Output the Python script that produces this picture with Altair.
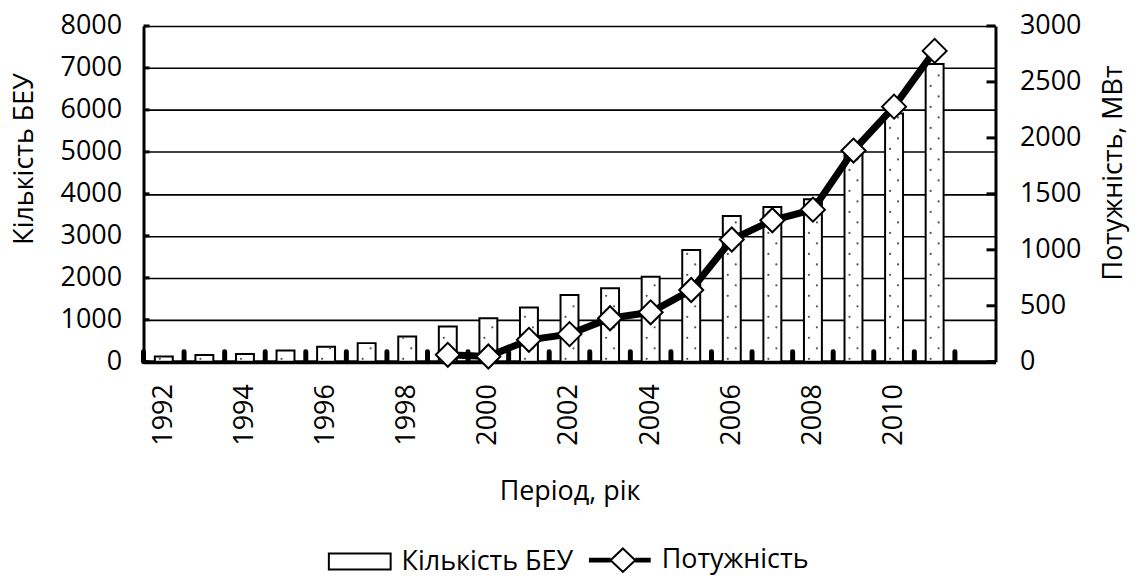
import altair as alt
import pandas as pd

# ---------------- data ----------------
years = [str(y) for y in range(1992, 2013)]          # 21 slots, 2012 empty
bar_years = [str(y) for y in range(1992, 2012)]
counts = [126, 160, 183, 268, 356, 444, 601, 838, 1038, 1290,
          1591, 1750, 2026, 2660, 3475, 3689, 3872, 4964, 5914, 7095]
power_years = [str(y) for y in range(1999, 2012)]
power = [62, 47, 196, 247, 389, 442, 641, 1092, 1264, 1359, 1887, 2279, 2777]
left_ticks = list(range(0, 8001, 1000))
right_ticks = list(range(0, 3001, 500))
series = ["Кількість БЕУ", "Потужність"]

FONT = "Open Sans"
FS = 27
W, H = 855, 337

bars_df = pd.DataFrame({"year": bar_years, "count": counts})
power_df = pd.DataFrame({"year": power_years, "power": power})
slots_df = pd.DataFrame({"year": years})
lt_df = pd.DataFrame({"v": left_ticks})
rt_df = pd.DataFrame({"v": right_ticks})
leg_df = pd.DataFrame({"s": series})

xscale = alt.Scale(domain=years, paddingInner=0, paddingOuter=0)
yl = alt.Scale(domain=[0, 8000], nice=False)
yr = alt.Scale(domain=[0, 3000], nice=False)

x_axis = alt.Axis(
    title="Період, рік", labelAngle=-90,
    labelExpr="(+datum.value % 2 == 0 && +datum.value < 2012) ? datum.value : ''",
    ticks=False, tickSize=0, domainWidth=4, domainColor="black",
    labelPadding=22, titlePadding=33, labelFont=FONT, labelFontSize=FS,
    titleFont=FONT, titleFontSize=FS, titleFontWeight="normal",
    labelColor="black", titleColor="black", labelOverlap=False,
)
yl_axis = alt.Axis(
    title="Кількість БЕУ", values=left_ticks, format="d", grid=True,
    gridColor="black", gridWidth=1.6, ticks=False, tickSize=0,
    domainWidth=3, domainColor="black",
    labelPadding=22, titlePadding=22, labelFont=FONT, labelFontSize=FS,
    titleFont=FONT, titleFontSize=FS, titleFontWeight="normal",
    labelColor="black", titleColor="black", titleY=133,
)
yr_axis = alt.Axis(
    title="Потужність, МВт", orient="right", values=right_ticks, format="d",
    grid=False, ticks=False, tickSize=0, domainWidth=3, domainColor="black",
    labelPadding=24, titlePadding=20, labelFont=FONT, labelFontSize=FS,
    titleFont=FONT, titleFontSize=FS, titleFontWeight="normal",
    labelColor="black", titleColor="black", titleAngle=270,
    titleBaseline="top", titleY=147,
)

X = alt.X("year:O", scale=xscale, axis=x_axis, sort=years)
Xn = alt.X("year:O", scale=xscale, sort=years)

bars = alt.Chart(bars_df).mark_bar(
    width=18, fill="white", stroke="black", strokeWidth=2
).encode(x=X, y=alt.Y("count:Q", scale=yl, axis=yl_axis))

dots_a = alt.Chart(bars_df).transform_calculate(
    lv="sequence(70, datum.count - 30, 500)"
).transform_flatten(["lv"]).mark_circle(
    size=5, color="#555555", opacity=1, xOffset=-4
).encode(x=Xn, y=alt.Y("lv:Q", scale=yl))

dots_b = alt.Chart(bars_df).transform_calculate(
    lv="sequence(320, datum.count - 30, 500)"
).transform_flatten(["lv"]).mark_circle(
    size=5, color="#555555", opacity=1, xOffset=4
).encode(x=Xn, y=alt.Y("lv:Q", scale=yl))

xticks = alt.Chart(slots_df).mark_rule(
    color="black", strokeWidth=5, strokeCap="round"
).encode(
    x=alt.X("year:O", scale=xscale, sort=years, bandPosition=0),
    y=alt.value(H - 10), y2=alt.value(H),
)

lticks = alt.Chart(lt_df).mark_rule(color="black", strokeWidth=3).encode(
    y=alt.Y("v:Q", scale=yl), x=alt.value(0), x2=alt.value(6)
)

left_group = alt.layer(bars, dots_a, dots_b, xticks, lticks)

line = alt.Chart(power_df).mark_line(color="black", strokeWidth=7).encode(
    x=Xn, y=alt.Y("power:Q", scale=yr, axis=yr_axis)
)
pts = alt.Chart(power_df).mark_point(
    shape="diamond", size=580, filled=True, fill="white",
    stroke="black", strokeWidth=2, opacity=1
).encode(x=Xn, y=alt.Y("power:Q", scale=yr))
rticks = alt.Chart(rt_df).mark_rule(color="black", strokeWidth=3).encode(
    y=alt.Y("v:Q", scale=yr), x=alt.value(W - 9), x2=alt.value(W)
)
right_group = alt.layer(line, rticks, pts)

rect_path = "M-1,-0.26H1V0.26H-1Z"
line_path = ("M-1,-0.045H-0.3M-1,-0.015H-0.3M-1,0.015H-0.3M-1,0.045H-0.3"
             "M0.5,-0.045H1M0.5,-0.015H1M0.5,0.015H1M0.5,0.045H1"
             "M0.1,-0.38L0.5,0L0.1,0.38L-0.3,0Z")

leg = alt.Chart(leg_df).transform_filter("false").mark_point(
    filled=False, color="black", strokeWidth=2, size=3844, opacity=1
).encode(
    shape=alt.Shape(
        "s:N",
        scale=alt.Scale(domain=series, range=[rect_path, line_path]),
        legend=alt.Legend(
            title=None, orient="none", legendX=185, legendY=504,
            direction="horizontal", symbolSize=3844, symbolStrokeWidth=2,
            symbolStrokeColor="black", symbolOpacity=1,
            labelFont=FONT, labelFontSize=FS, labelLimit=0,
            labelColor="black", labelOffset=10, columnPadding=11,
            padding=0,
        ),
    )
)

chart = alt.layer(left_group, right_group, leg).resolve_scale(
    y="independent"
).properties(
    width=W, height=H,
    padding={"left": 2, "top": 3, "right": 5, "bottom": 5},
).configure_view(stroke=None)

chart.save("out.html", embed_options={"renderer": "svg", "actions": False})
